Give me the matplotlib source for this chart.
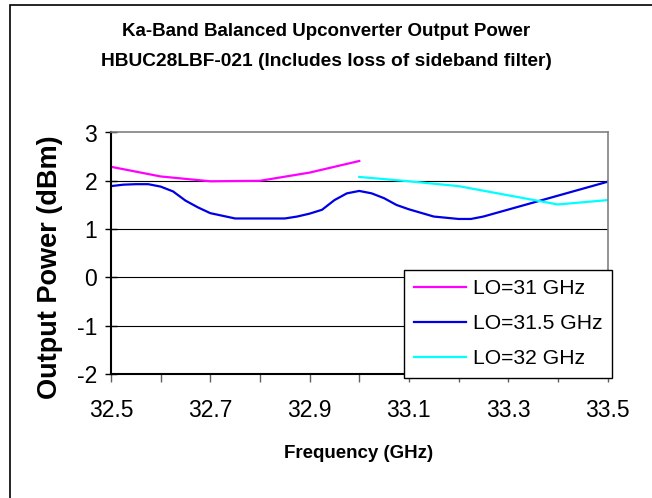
import matplotlib
matplotlib.use("Agg")
import matplotlib.pyplot as plt
from matplotlib.patches import Rectangle

plt.rcParams['font.family'] = ['Liberation Sans', 'DejaVu Sans']
plt.rcParams['axes.unicode_minus'] = False

# LO = 31 GHz
freq_31 = [32.5, 32.6, 32.7, 32.8, 32.9, 33.0]
pwr_31 = [2.29, 2.09, 1.99, 2.0, 2.17, 2.41]

# LO = 31.5 GHz
freq_315 = [32.5, 32.525, 32.55, 32.575, 32.6, 32.625, 32.65, 32.675, 32.7, 32.75,
            32.8, 32.85, 32.875, 32.9, 32.925, 32.95, 32.975, 33.0, 33.025, 33.05,
            33.075, 33.1, 33.15, 33.2, 33.225, 33.25, 33.5]
pwr_315 = [1.89, 1.92, 1.93, 1.93, 1.88, 1.78, 1.59, 1.45, 1.33, 1.22,
           1.22, 1.22, 1.26, 1.32, 1.40, 1.60, 1.74, 1.79, 1.74, 1.64,
           1.50, 1.41, 1.26, 1.21, 1.21, 1.26, 1.98]

# LO = 32 GHz
freq_32 = [33.0, 33.1, 33.2, 33.3, 33.4, 33.5]
pwr_32 = [2.08, 1.99, 1.89, 1.70, 1.51, 1.60]

xticks = [32.5, 32.7, 32.9, 33.1, 33.3, 33.5]
yticks = [-2, -1, 0, 1, 2, 3]

fig = plt.figure(figsize=(6.52, 4.98), dpi=100)
ax = fig.add_axes([111/652, 1-374/498, (607.5-111)/652, (374-132.5)/498])

ax.plot(freq_31, pwr_31, color='#FF00FF', lw=1.6, label='LO=31 GHz')
ax.plot(freq_315, pwr_315, color='#0000E6', lw=1.6, label='LO=31.5 GHz')
ax.plot(freq_32, pwr_32, color='#00FFFF', lw=1.6, label='LO=32 GHz')

ax.set_xlim(32.5, 33.5)
ax.set_ylim(-2, 3)
ax.set_xticks(xticks)
ax.set_xticks([32.6, 32.8, 33.0, 33.2, 33.4], minor=True)
ax.set_yticks(yticks)
ax.set_xticklabels(['32.5', '32.7', '32.9', '33.1', '33.3', '33.5'])
ax.tick_params(axis='both', labelsize=16.5)
ax.tick_params(axis='y', direction='inout', length=8, width=1, pad=6)
ax.tick_params(axis='x', which='both', direction='out', length=6, width=1,
               color='#606060', pad=12)
ax.tick_params(axis='x', which='minor', labelbottom=False)

for y in yticks[1:-1]:
    ax.axhline(y, color='black', lw=0.8, zorder=0)
ax.spines['left'].set_linewidth(1.5)
ax.spines['bottom'].set_linewidth(1.5)
ax.spines['top'].set_color('#808080')
ax.spines['right'].set_color('#808080')
ax.spines['top'].set_linewidth(1.2)
ax.spines['right'].set_linewidth(1.2)

fig.text(50/652, 1-267.5/498, 'Output Power (dBm)', rotation=90, ha='center',
         va='center', fontsize=19.5, fontweight='bold')
fig.text(359/652, 1-453/498, 'Frequency (GHz)', ha='center', va='center',
         fontsize=13.5, fontweight='bold')

fig.text(0.5, 1-31/498, 'Ka-Band Balanced Upconverter Output Power',
         ha='center', va='center', fontsize=13.5, fontweight='bold')
fig.text(0.5, 1-61/498, 'HBUC28LBF-021 (Includes loss of sideband filter)',
         ha='center', va='center', fontsize=13.8, fontweight='bold')

leg = ax.legend(loc='upper left', bbox_to_anchor=(404/652, 1-270/498),
                bbox_transform=fig.transFigure, fontsize=15.2, frameon=True,
                fancybox=False, borderaxespad=0, handlelength=2.5,
                handletextpad=0.3, labelspacing=0.75, borderpad=0.45)
leg.get_frame().set_edgecolor('black')
leg.get_frame().set_linewidth(1)
leg.get_frame().set_alpha(1)

fig.add_artist(Rectangle((10/652, -0.1), 1.2, 1.1 - 5/498, transform=fig.transFigure,
                         fill=False, edgecolor='black', lw=1.2))

fig.savefig('out.png', dpi=100)
